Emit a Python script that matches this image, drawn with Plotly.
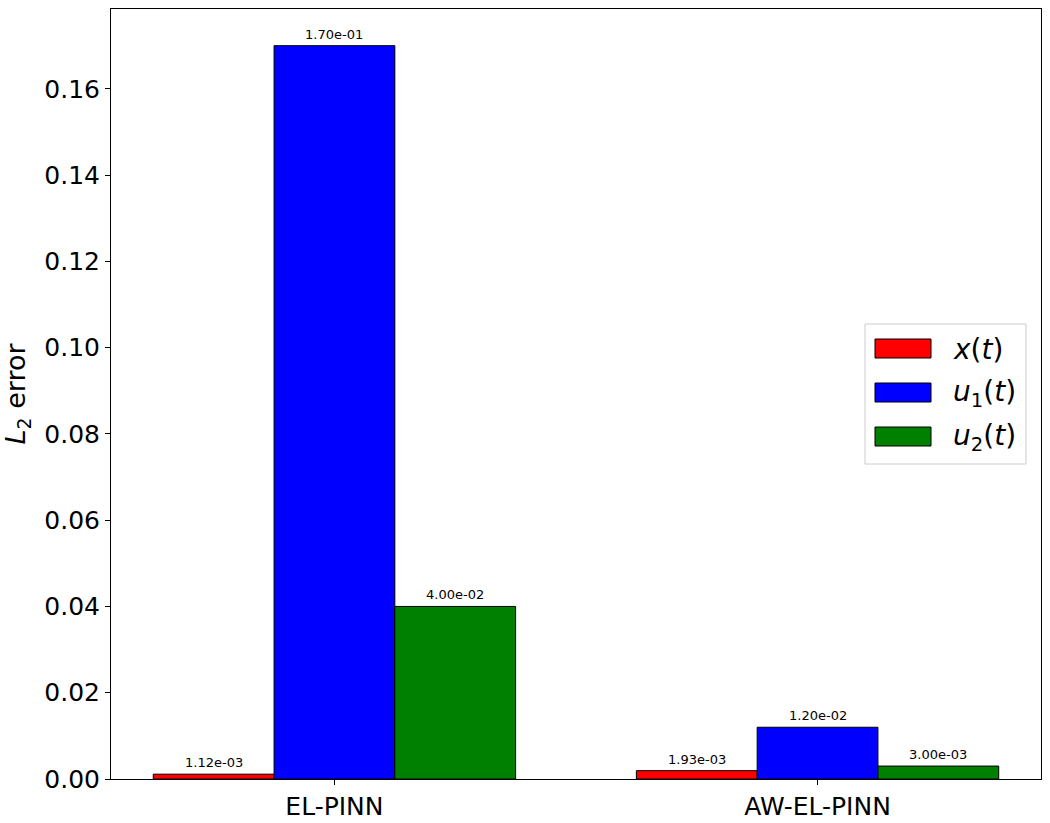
import plotly.graph_objects as go

models = ["EL-PINN", "AW-EL-PINN"]
series_names = ["<i>x</i>(<i>t</i>)", "<i>u</i><sub>1</sub>(<i>t</i>)", "<i>u</i><sub>2</sub>(<i>t</i>)"]
x_err = [1.12e-03, 1.93e-03]
u1_err = [1.70e-01, 1.20e-02]
u2_err = [4.00e-02, 3.00e-03]
colors = ["red", "blue", "green"]

positions = list(range(len(models)))
width = 0.25
offsets = [-1.5 * width, -0.5 * width, 0.5 * width]

# plot area in pixels (matplotlib-like layout)
L, R, T, B = 111, 1041, 9, 779


def px(x):
    return (x - L) / (R - L)


def py(y):
    return (B - y) / (B - T)


fig = go.Figure()
annotations = []
for name, vals, col, off in zip(series_names, [x_err, u1_err, u2_err], colors, offsets):
    fig.add_trace(go.Bar(
        x=positions, y=vals, name=name, width=width, offset=off,
        marker=dict(color=col, line=dict(color="black", width=1)),
        showlegend=False,
    ))
    for p, v in zip(positions, vals):
        annotations.append(dict(
            x=p + off + width / 2, y=v, text=f"{v:.2e}", showarrow=False,
            xref="x", yref="y", yanchor="bottom", yshift=2,
            font=dict(size=13, color="black"),
        ))

# hand-drawn legend with wide patches
shapes = [dict(type="rect", xref="paper", yref="paper",
               x0=px(865), x1=px(1026), y0=py(324), y1=py(464),
               line=dict(color="#cccccc", width=1), fillcolor="white")]
for i, (name, col) in enumerate(zip(series_names, colors)):
    top = 339 + 44 * i
    shapes.append(dict(type="rect", xref="paper", yref="paper",
                       x0=px(875), x1=px(931), y0=py(top), y1=py(top + 19),
                       line=dict(color="black", width=1), fillcolor=col))
    annotations.append(dict(x=px(951), y=py(top + 10), xref="paper", yref="paper",
                            text=name, showarrow=False, xanchor="left", yanchor="middle",
                            font=dict(size=28, color="black")))

fig.update_layout(
    width=1050, height=823,
    margin=dict(l=L, r=1050 - R, t=T, b=823 - B, autoexpand=False),
    plot_bgcolor="white", paper_bgcolor="white",
    font=dict(family="DejaVu Sans", color="black"),
    showlegend=False,
    annotations=annotations,
    shapes=shapes,
)
fig.update_xaxes(
    range=[-0.4625, 1.4625], tickvals=positions, ticktext=models,
    showline=True, linecolor="black", linewidth=1, mirror=True,
    ticks="outside", ticklen=5, tickcolor="black", showgrid=False,
    tickfont=dict(size=25), zeroline=False, automargin=False,
)
fig.update_yaxes(
    range=[0, 0.1785], dtick=0.02, tickformat=".2f",
    showline=True, linecolor="black", linewidth=1, mirror=True,
    ticks="outside", ticklen=5, tickcolor="black", showgrid=False,
    tickfont=dict(size=25), zeroline=False, automargin=False,
    title=dict(text="<i>L</i><sub>2</sub> error", font=dict(size=27), standoff=10),
)

# drop the default 8px page margin so the figure sits at the window corner
fig.write_html("out.html", config={"displayModeBar": False},
               post_script="document.body.style.margin='0';")
